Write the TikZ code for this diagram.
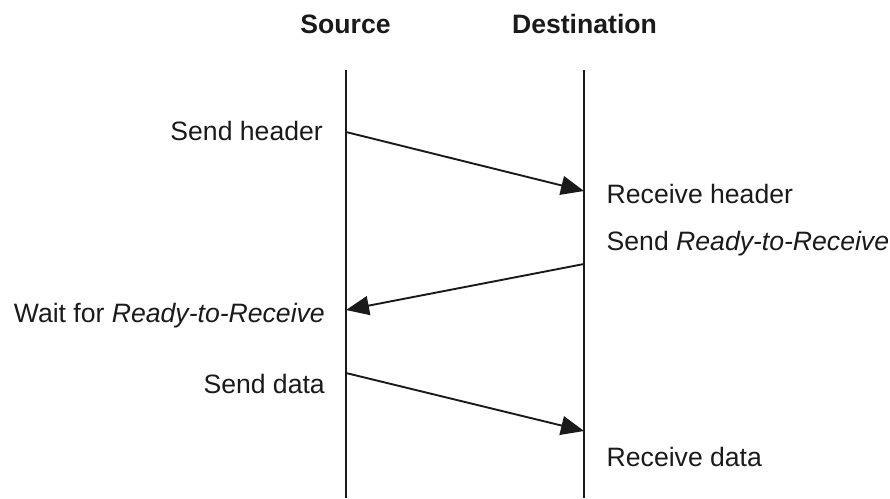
\documentclass[tikz,border=0pt]{standalone}
\usepackage{fontspec}
\setmainfont{Liberation Sans}
\usetikzlibrary{arrows.meta}
\definecolor{ink}{HTML}{1A1A1A}
\begin{document}
\begin{tikzpicture}[x=1pt,y=-1pt,
  lbl/.style={inner sep=0pt,text=ink,font=\fontsize{26.6}{31}\selectfont},
  hdr/.style={lbl,font=\fontsize{26.6}{31}\selectfont\bfseries},
  life/.style={draw=ink,line width=1.5pt},
  msg/.style={draw=ink,line width=1.9pt,-{Triangle[length=23pt,width=19pt]}}]
\useasboundingbox (0,0) rectangle (890,498);
% headers
\node[hdr,anchor=base] (hs) at (345.5,33.3) {Source};
\node[hdr,anchor=base] (hd) at (584.5,33.3) {Destination};
% lifelines
\coordinate (st) at (346,70);
\coordinate (sb) at (346,498);
\coordinate (dt) at (584,70);
\coordinate (db) at (584,498);
\draw[life] (st) -- (sb);
\draw[life] (dt) -- (db);
% message points
\coordinate (s1) at (346,132);
\coordinate (d1) at (584,191);
\coordinate (d2) at (584,264);
\coordinate (s2) at (346,310);
\coordinate (s3) at (346,373);
\coordinate (d3) at (584,431);
\draw[msg] (s1) -- (d1);
\draw[msg] (d2) -- (s2);
\draw[msg] (s3) -- (d3);
% labels
\node[lbl,anchor=base east] (l1) at (323,140.7) {Send header};
\node[lbl,anchor=base west] (l2) at (606.5,203.3) {Receive header};
\node[lbl,anchor=base west] (l3) at (606.5,250.7) {Send \textit{Ready-to-Receive}};
\node[lbl,anchor=base east] (l4) at (325,322.7) {Wait for \textit{Ready-to-Receive}};
\node[lbl,anchor=base east] (l5) at (325,393) {Send data};
\node[lbl,anchor=base west] (l6) at (606.5,466) {Receive data};
\end{tikzpicture}
\end{document}
